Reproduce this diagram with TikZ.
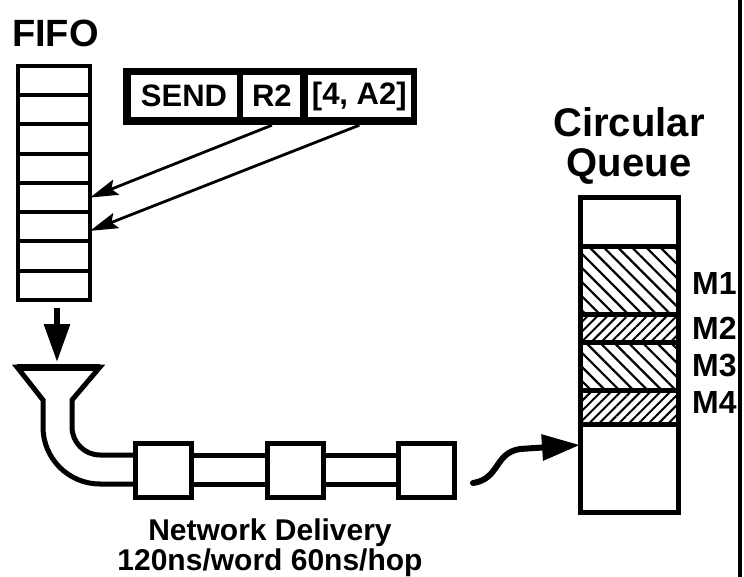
\documentclass[tikz,border=0pt]{standalone}
\usepackage{fontspec}
\setmainfont{Liberation Sans}
\usetikzlibrary{arrows.meta,patterns.meta,positioning}

\tikzset{
  fifocell/.style={draw, line width=4pt, minimum width=72pt, minimum height=29.25pt, inner sep=0pt, outer sep=0pt},
  qcell/.style={draw, line width=5pt, minimum width=98pt, inner sep=0pt, outer sep=0pt},
  hopbox/.style={draw, line width=5pt, minimum width=56pt, minimum height=54pt, inner sep=0pt, fill=white},
  instrcell/.style={fill=white, minimum height=42pt, inner sep=0pt, font=\bfseries\fontsize{31}{31}\selectfont},
  pipe/.style={line width=5pt, line join=miter},
  thinarrow/.style={line width=2.8pt, -{Stealth[length=28pt,width=16pt,inset=5pt]}},
  fatarrow/.style={line width=6pt, -{Triangle[length=38pt,width=25pt]}},
  hatchA/.style={pattern={Lines[angle=-45,distance=10pt,line width=2.2pt]}},
  hatchB/.style={pattern={Lines[angle=45,distance=7pt,line width=2pt]}},
  mlabel/.style={font=\bfseries\fontsize{32}{32}\selectfont, inner sep=0pt},
}

\begin{document}
\begin{tikzpicture}[x=1pt,y=-1pt]
  \useasboundingbox (0,0) rectangle (744,577);

  % FIFO
  \node[anchor=base west, inner sep=0pt, font=\bfseries\fontsize{38}{38}\selectfont] (fifolabel) at (12,47) {FIFO};
  \node[fifocell] (f1) at (54,80.6) {};
  \foreach \i [remember=\i as \j (initially 1)] in {2,...,8}
    \node[fifocell, below=0pt of f\j] (f\i) {};

  % message
  \node[fill=black, minimum width=294pt, minimum height=57pt, inner sep=0pt] (instr) at (270,96.5) {};
  \node[instrcell, minimum width=106pt] (send) at (184,96) {SEND};
  \node[instrcell, minimum width=57pt, right=6pt of send] (r2) {R2};
  \node[instrcell, minimum width=103pt, right=7pt of r2] (addr) {[4, A2]};
  \draw[thinarrow] (r2.south |- instr.south) -- (f5.east);
  \draw[thinarrow] (addr.south |- instr.south) -- ([yshift=-4pt]f6.east);

  % network
  \coordinate (arrowtop) at (57,308);
  \coordinate (funneltop) at (57,362);
  \draw[fatarrow] (arrowtop) -- (funneltop);
  \node[hopbox] (b1) at (163.5,470) {};
  \node[hopbox] (b2) at (295.5,470) {};
  \node[hopbox] (b3) at (426.5,470) {};
  \draw[pipe] ([yshift=-14pt]b1.west) -- (100,484) arc(90:180:57) -- (43,400)
    -- (17,367) -- (100,367) -- (72,400) -- (72,427) arc(180:90:28)
    -- ([yshift=15pt]b1.west);
  \draw[line width=7pt] (17,367) -- (100,367);
  \draw[pipe] ([yshift=15pt]b1.east) -- ([yshift=15pt]b2.west);
  \draw[pipe] ([yshift=-14pt]b1.east) -- ([yshift=-14pt]b2.west);
  \draw[pipe] ([yshift=15pt]b2.east) -- ([yshift=15pt]b3.west);
  \draw[pipe] ([yshift=-14pt]b2.east) -- ([yshift=-14pt]b3.west);
  \node[align=center, inner sep=0pt, anchor=north, font=\bfseries\fontsize{30}{30}\selectfont] (netlabel) at (270,519)
    {Network Delivery\\120ns/word 60ns/hop};

  % circular queue
  \node[qcell, minimum height=49pt] (q1) at (629,222.5) {};
  \node[qcell, hatchA, minimum height=67pt, below=0pt of q1] (q2) {};
  \node[qcell, hatchB, minimum height=28pt, below=0pt of q2] (q3) {};
  \node[qcell, hatchA, minimum height=48pt, below=0pt of q3] (q4) {};
  \node[qcell, hatchB, minimum height=34pt, below=0pt of q4] (q5) {};
  \node[qcell, minimum height=88pt, below=0pt of q5] (q6) {};
  \node[align=center, inner sep=0pt, font=\bfseries\fontsize{40}{40}\selectfont, above=13pt of q1] (qlabel) {Circular\\Queue};
  \node[mlabel, right=14pt of q2, yshift=-3pt] (m1) {M1};
  \node[mlabel, right=14pt of q3] (m2) {M2};
  \node[mlabel, right=14pt of q4] (m3) {M3};
  \node[mlabel, right=14pt of q5, yshift=5pt] (m4) {M4};

  \coordinate (wavestart) at (473,483);
  \draw[fatarrow, line cap=round] (wavestart) .. controls (500,479) and (494,453) .. (520,449)
    -- ([yshift=23pt]q6.west);

  \draw[line width=4pt] (740,0) -- (740,577);
\end{tikzpicture}
\end{document}
